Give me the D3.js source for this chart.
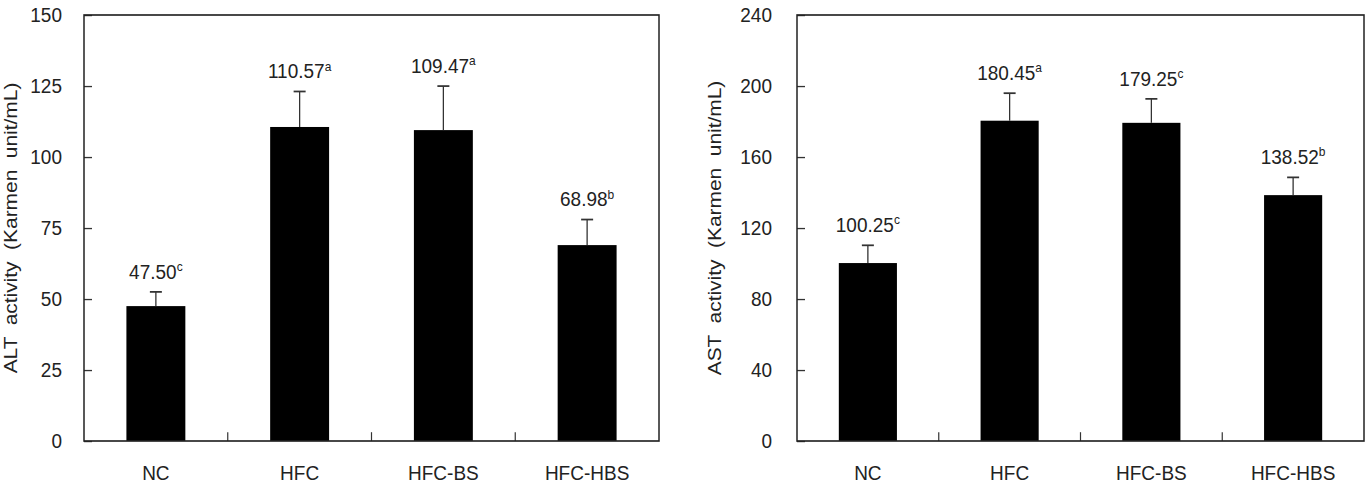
<!DOCTYPE html>
<html>
<head>
<meta charset="utf-8">
<script src="https://cdn.jsdelivr.net/npm/d3@7"></script>
<style>
  html, body { margin: 0; padding: 0; background: #fff; }
  svg { display: block; font-family: "Liberation Sans", Arial, sans-serif; }
</style>
</head>
<body>
<div id="chart"></div>
<script>
const groups = ["NC", "HFC", "HFC-BS", "HFC-HBS"];

const altMeans = [47.50, 110.57, 109.47, 68.98];
const altErrors = [5.0, 12.5, 15.5, 9.0];
const altLetters = ["c", "a", "a", "b"];
const altTicks = [0, 25, 50, 75, 100, 125, 150];

const astMeans = [100.25, 180.45, 179.25, 138.52];
const astErrors = [10.0, 15.5, 13.5, 10.0];
const astLetters = ["c", "a", "c", "b"];
const astTicks = [0, 40, 80, 120, 160, 200, 240];

const W = 1371, H = 484;
// source figure is stretched vertically ~1.1x, so draw in squashed units and scale up
const stretch = 1.1;

const svg = d3.select("#chart").append("svg")
    .attr("width", W)
    .attr("height", H);

const root = svg.append("g").attr("transform", `scale(1,${stretch})`);

const plotTop = 15 / stretch, plotBottom = 441 / stretch;

function drawPanel(opts) {
    const g = root.append("g");
    const data = groups.map((d, i) => ({
        name: d, mean: opts.means[i], err: opts.errors[i], letter: opts.letters[i]
    }));

    const x = d3.scaleBand()
        .domain(groups)
        .range([opts.x0, opts.x1])
        .paddingInner(0.59)
        .paddingOuter(0.295);

    const y = d3.scaleLinear()
        .domain([0, d3.max(opts.ticks)])
        .range([plotBottom, plotTop]);

    // y axis, ticks pointing into the plot
    const yAxis = g.append("g")
        .attr("transform", `translate(${opts.x0},0)`)
        .call(d3.axisLeft(y)
            .tickValues(opts.ticks)
            .tickSizeInner(-8)
            .tickSizeOuter(0)
            .tickPadding(opts.tickPad));
    yAxis.select(".domain").remove();
    yAxis.selectAll(".tick line").attr("stroke", "#333").attr("stroke-width", 1.2);
    yAxis.selectAll(".tick text")
        .attr("fill", "#222")
        .style("font-family", "inherit")
        .style("font-size", "19px");

    // bars
    g.selectAll(".bar").data(data).enter()
        .append("rect")
        .attr("class", "bar")
        .attr("x", d => x(d.name))
        .attr("y", d => y(d.mean))
        .attr("width", x.bandwidth())
        .attr("height", d => y(0) - y(d.mean))
        .attr("fill", "#000");

    // error bars (upper only)
    const eb = g.selectAll(".err").data(data).enter().append("g").attr("class", "err");
    eb.append("line")
        .attr("x1", d => x(d.name) + x.bandwidth() / 2)
        .attr("x2", d => x(d.name) + x.bandwidth() / 2)
        .attr("y1", d => y(d.mean))
        .attr("y2", d => y(d.mean + d.err))
        .attr("stroke", "#333").attr("stroke-width", 1.3);
    eb.append("line")
        .attr("x1", d => x(d.name) + x.bandwidth() / 2 - 6)
        .attr("x2", d => x(d.name) + x.bandwidth() / 2 + 6)
        .attr("y1", d => y(d.mean + d.err))
        .attr("y2", d => y(d.mean + d.err))
        .attr("stroke", "#333").attr("stroke-width", 1.6);

    // value labels with superscript letters
    const lbl = g.selectAll(".val").data(data).enter()
        .append("text")
        .attr("class", "val")
        .attr("x", d => x(d.name) + x.bandwidth() / 2)
        .attr("y", d => y(d.mean + d.err) - 12)
        .attr("text-anchor", "middle")
        .attr("fill", "#222")
        .style("font-size", "19px");
    lbl.append("tspan").text(d => d.mean.toFixed(2));
    lbl.append("tspan")
        .attr("dy", -7)
        .style("font-size", "12px")
        .text(d => d.letter);

    // small ticks between categories on the bottom edge
    const step = x.step();
    g.selectAll(".sep").data(groups.slice(1)).enter()
        .append("line")
        .attr("x1", d => x(d) - step * x.paddingInner() / 2)
        .attr("x2", d => x(d) - step * x.paddingInner() / 2)
        .attr("y1", plotBottom)
        .attr("y2", plotBottom - 8)
        .attr("stroke", "#333").attr("stroke-width", 1.2);

    // category labels
    g.selectAll(".cat").data(groups).enter()
        .append("text")
        .attr("x", d => x(d) + x.bandwidth() / 2)
        .attr("y", 480 / stretch)
        .attr("text-anchor", "middle")
        .attr("fill", "#222")
        .style("font-size", "19px")
        .text(d => d);

    // frame
    g.append("rect")
        .attr("x", opts.x0)
        .attr("y", plotTop)
        .attr("width", opts.x1 - opts.x0)
        .attr("height", plotBottom - plotTop)
        .attr("fill", "none")
        .attr("stroke", "#222")
        .attr("stroke-width", 1.5);

    // y title
    g.append("text")
        .attr("transform", `translate(${opts.titleX},${(plotTop + plotBottom) / 2}) rotate(-90)`)
        .attr("text-anchor", "middle")
        .attr("fill", "#222")
        .style("font-size", "19px")
        .style("white-space", "pre")
        .text(opts.title);
}

drawPanel({
    x0: 84, x1: 659, tickPad: 22, titleX: 17,
    means: altMeans, errors: altErrors, letters: altLetters, ticks: altTicks,
    title: "ALT  activity  (Karmen  unit/mL)"
});

drawPanel({
    x0: 797, x1: 1364, tickPad: 25, titleX: 721,
    means: astMeans, errors: astErrors, letters: astLetters, ticks: astTicks,
    title: "AST  activity  (Karmen  unit/mL)"
});
</script>
</body>
</html>
